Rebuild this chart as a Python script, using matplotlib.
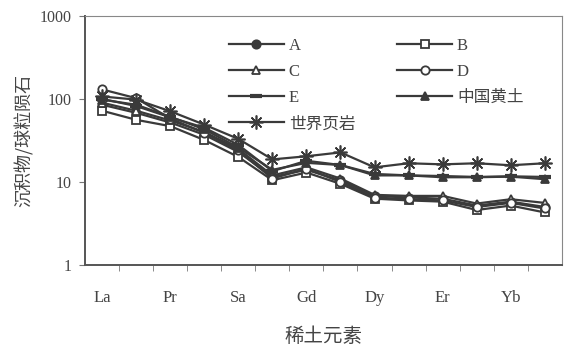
import numpy as np
import matplotlib
matplotlib.use("Agg")
from matplotlib import pyplot as plt

# REE elements (chondrite normalised)
elements = ["La", "Ce", "Pr", "Nd", "Sm", "Eu", "Gd", "Tb", "Dy", "Ho", "Er", "Tm", "Yb", "Lu"]
tick_names = ["La", "", "Pr", "", "Sa", "", "Gd", "", "Dy", "", "Er", "", "Yb", ""]

A = [85, 68, 52, 37, 23, 11.5, 14, 10.5, 6.8, 6.5, 6.3, 5.2, 5.8, 5.0]
B = [72, 56, 47, 32, 20, 10.5, 13, 9.5, 6.3, 6.0, 5.8, 4.6, 5.2, 4.3]
C = [90, 72, 55, 40, 25, 12, 15, 11, 7.0, 6.8, 6.8, 5.5, 6.2, 5.6]
D = [130, 102, 58, 39, 24, 11, 14.5, 10, 6.5, 6.2, 6.0, 5.0, 5.6, 4.8]
E = [100, 82, 60, 45, 28, 13.5, 18, 16, 12.5, 12, 11.8, 11.5, 11.7, 11.5]
loess = [98, 85, 61, 43, 26, 14, 17, 16, 12, 12, 11.4, 11.4, 11.6, 10.8]
shale = [107, 98, 71, 49, 33, 18.7, 20.4, 22.7, 15, 16.8, 16.3, 16.8, 15.9, 16.8]

col = "#3a3a3a"
cjk = ["Noto Sans CJK SC", "DejaVu Sans"]

fig = plt.figure(figsize=(5.64, 3.52), dpi=100)
ax = fig.add_axes([0.151, 0.247, 0.845, 0.708])

x = np.arange(len(elements))
kw = dict(color=col, lw=1.6, ms=6, mew=1.3)
hA, = ax.plot(x, A, marker="o", mfc=col, label="A", **kw)
hB, = ax.plot(x, B, marker="s", mfc="white", label="B", **kw)
hC, = ax.plot(x, C, marker="^", mfc="white", label="C", **kw)
hD, = ax.plot(x, D, marker="o", mfc="white", label="D", **kw)
hE, = ax.plot(x, E, marker="_", mfc=col, label="E", color=col, lw=1.6, ms=9, mew=3)
hL, = ax.plot(x, loess, marker="^", mfc=col, label="中国黄土", **kw)
hS, = ax.plot(x, shale, marker=(8, 2, 0), label="世界页岩", color=col, lw=1.6, ms=10, mew=1.2)

ax.set_yscale("log")
ax.set_ylim(1, 1000)
ax.set_xlim(-0.5, len(elements) - 0.5)
ax.set_yticks([1, 10, 100, 1000])
ax.set_yticklabels(["1", "10", "100", "1000"], family="Liberation Serif", fontsize=11.5, color="#444444")
ax.yaxis.set_minor_locator(matplotlib.ticker.NullLocator())
ax.set_xticks(x)
ax.set_xticklabels(tick_names, family="Liberation Serif", fontsize=12, color="#444444")
ax.set_xticks(np.arange(0.5, len(elements) - 1, 1), minor=True)
ax.tick_params(axis="x", which="major", length=0, pad=18)
ax.tick_params(axis="x", which="minor", length=4, color="#777777")
ax.tick_params(axis="y", length=4, color="#777777", pad=6)
for s in ax.spines.values():
    s.set_color("#888888")
ax.spines["left"].set_color("#555555")
ax.spines["bottom"].set_color("#555555")
ax.spines["left"].set_linewidth(1.4)
ax.spines["bottom"].set_linewidth(1.4)

ax.set_ylabel("沉积物/球粒陨石", family=cjk, fontsize=13, color="#444444", labelpad=4)
ax.set_xlabel("稀土元素", family=cjk, fontsize=14, color="#444444", labelpad=14)

handles = [hA, hC, hE, hS, hB, hD, hL]
leg = ax.legend(handles=handles, labels=[h.get_label() for h in handles], ncol=2,
                loc="upper left", bbox_to_anchor=(0.27, 0.97), frameon=False,
                handlelength=3.3, columnspacing=2.5, labelspacing=0.6, handletextpad=0.3,
                prop={"family": ["Liberation Serif", "Noto Sans CJK SC"], "size": 12})
for t in leg.get_texts():
    t.set_color("#444444")

fig.savefig("out.png", dpi=100)
